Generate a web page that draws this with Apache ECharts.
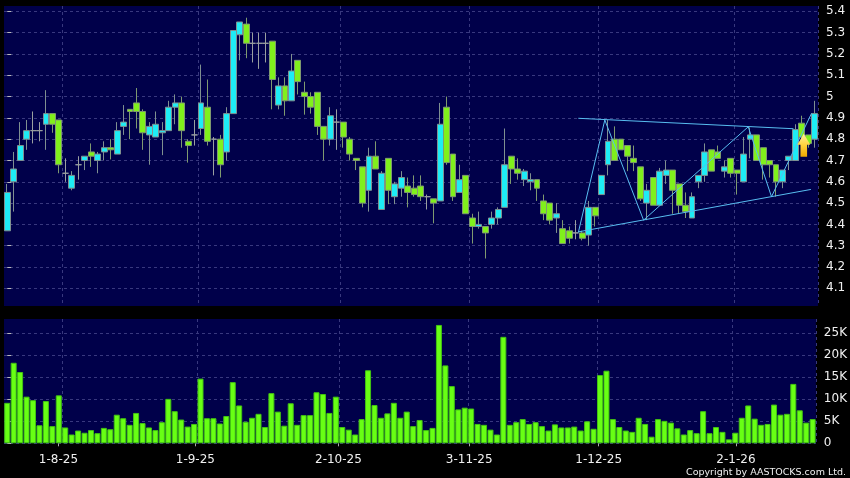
<!DOCTYPE html>
<html>
<head>
<meta charset="utf-8">
<style>html,body{margin:0;padding:0;background:#000}#c{width:850px;height:478px}</style>
<script src="https://cdn.jsdelivr.net/npm/echarts@6/dist/echarts.min.js"></script>
</head>
<body>
<div id="c"></div>
<script>
const opens = [4.37,4.60,4.70,4.80,4.84,4.84,4.87,4.92,4.89,4.64,4.57,4.68,4.70,4.74,4.70,4.74,4.76,4.73,4.86,4.94,4.97,4.93,4.82,4.81,4.83,4.84,4.95,4.97,4.79,4.82,4.85,4.95,4.80,4.80,4.74,4.92,5.29,5.34,5.25,5.25,5.25,5.26,4.96,5.05,4.98,5.17,5.02,5.00,5.02,4.86,4.80,4.88,4.88,4.80,4.71,4.67,4.56,4.72,4.47,4.71,4.53,4.57,4.58,4.57,4.58,4.53,4.52,4.51,4.95,4.73,4.55,4.63,4.43,4.39,4.39,4.40,4.43,4.48,4.72,4.66,4.61,4.60,4.61,4.51,4.50,4.43,4.38,4.37,4.36,4.36,4.35,4.48,4.54,4.68,4.80,4.80,4.77,4.71,4.67,4.50,4.62,4.49,4.63,4.655,4.59,4.49,4.43,4.60,4.63,4.75,4.74,4.65,4.71,4.655,4.60,4.80,4.82,4.76,4.70,4.68,4.60,4.70,4.70,4.875,4.82,4.80];
const closes = [4.55,4.66,4.77,4.84,4.84,4.84,4.92,4.87,4.68,4.64,4.63,4.68,4.72,4.72,4.73,4.76,4.75,4.84,4.88,4.93,4.93,4.83,4.86,4.87,4.84,4.95,4.97,4.84,4.77,4.82,4.97,4.79,4.80,4.68,4.92,5.31,5.35,5.25,5.25,5.25,5.25,5.08,5.05,4.98,5.12,5.07,5.00,4.95,4.86,4.80,4.91,4.88,4.81,4.73,4.70,4.50,4.72,4.66,4.64,4.56,4.59,4.62,4.55,4.54,4.53,4.53,4.50,4.87,4.69,4.53,4.61,4.45,4.39,4.40,4.36,4.43,4.47,4.68,4.66,4.64,4.65,4.61,4.57,4.45,4.42,4.45,4.31,4.335,4.36,4.335,4.48,4.44,4.63,4.79,4.70,4.75,4.72,4.69,4.52,4.56,4.49,4.65,4.655,4.56,4.49,4.46,4.53,4.63,4.74,4.65,4.71,4.67,4.64,4.64,4.73,4.82,4.70,4.68,4.68,4.60,4.655,4.72,4.845,4.81,4.78,4.92];
const lows = [4.37,4.46,4.70,4.75,4.78,4.79,4.75,4.83,4.64,4.60,4.56,4.61,4.655,4.67,4.64,4.70,4.705,4.73,4.82,4.80,4.85,4.75,4.68,4.81,4.725,4.84,4.87,4.76,4.69,4.77,4.82,4.77,4.63,4.62,4.70,4.92,5.17,5.18,5.16,5.13,5.16,4.94,4.94,4.91,4.98,5.01,4.915,4.92,4.82,4.70,4.77,4.75,4.76,4.70,4.655,4.48,4.46,4.66,4.47,4.495,4.495,4.53,4.48,4.53,4.51,4.47,4.405,4.51,4.68,4.51,4.55,4.45,4.31,4.38,4.24,4.38,4.40,4.48,4.59,4.61,4.58,4.56,4.51,4.42,4.40,4.36,4.31,4.31,4.33,4.325,4.30,4.39,4.54,4.63,4.70,4.75,4.65,4.65,4.51,4.42,4.49,4.49,4.59,4.45,4.45,4.43,4.43,4.57,4.60,4.65,4.71,4.62,4.62,4.54,4.60,4.71,4.70,4.61,4.62,4.53,4.57,4.655,4.70,4.78,4.76,4.76];
const highs = [4.59,4.74,4.88,4.89,4.93,4.88,5.03,4.92,4.89,4.71,4.65,4.72,4.72,4.78,4.74,4.79,4.80,4.88,4.96,4.94,5.04,4.94,4.88,4.93,4.88,4.98,5.01,5.00,4.80,4.89,5.15,5.08,4.81,4.82,4.95,5.31,5.35,5.37,5.30,5.30,5.30,5.26,5.09,5.09,5.20,5.17,5.07,5.02,5.02,4.86,4.95,4.94,4.88,4.81,4.71,4.67,4.76,4.79,4.65,4.71,4.60,4.65,4.62,4.63,4.63,4.54,4.52,4.97,5.00,4.73,4.68,4.63,4.45,4.46,4.39,4.46,4.48,4.85,4.72,4.71,4.66,4.64,4.61,4.54,4.50,4.50,4.42,4.39,4.42,4.37,4.51,4.48,4.63,4.89,4.86,4.80,4.77,4.77,4.67,4.59,4.62,4.665,4.70,4.655,4.59,4.55,4.55,4.63,4.78,4.75,4.77,4.70,4.71,4.655,4.81,4.855,4.82,4.76,4.70,4.68,4.655,4.72,4.87,4.91,4.82,4.98];
const volumesK = [9.2,18.3,16.2,10.6,9.8,4.1,9.6,3.9,10.9,3.6,2.0,2.9,2.4,3.0,2.3,3.5,3.2,6.5,5.7,4.2,6.9,4.6,3.6,3.0,4.8,10.1,7.3,5.4,3.8,4.4,14.7,5.7,5.7,4.5,6.2,13.9,8.6,4.9,5.8,6.7,3.7,11.4,7.2,4.0,9.1,4.2,6.4,6.4,11.6,11.2,6.9,10.6,3.7,3.1,2.0,5.5,16.6,8.7,5.8,6.8,9.2,5.8,7.2,3.9,5.3,3.0,3.5,26.9,17.7,13.0,7.7,8.1,7.9,4.4,4.2,3.1,2.0,24.2,4.2,4.8,5.5,4.4,4.8,3.9,2.9,4.3,3.6,3.6,3.8,2.9,5.0,3.3,15.5,16.5,5.5,3.7,2.9,2.6,5.8,4.4,1.5,5.5,5.1,4.7,3.4,2.0,3.0,2.3,7.3,2.3,3.7,2.6,0.9,2.4,5.8,8.6,5.6,4.2,4.4,8.8,6.5,6.7,13.5,7.5,4.7,5.5];
const dayIndex = volumesK.map((_, i) => i);

const monthStartIndex = [9, 30, 52, 72, 92, 113];
const dateTickPos = [7.95, 29.2, 51.4, 71.7, 91.8, 113.1];
const dateTickLabels = ['1-8-25', '1-9-25', '2-10-25', '3-11-25', '1-12-25', '2-1-26'];
const priceTicks = [4.1,4.2,4.3,4.4,4.5,4.6,4.7,4.8,4.9,5,5.1,5.2,5.3,5.4];
const volumeTicks = [0,5,10,15,20,25];

const upperLine = [[88.4,4.898],[121.7,4.849]];
const lowerLine = [[88.4,4.365],[124.4,4.564]];
const zigzag = [[88.4,4.362],[92.5,4.89],[98.5,4.42],[114.7,4.858],[118.3,4.53],[124.5,4.921]];
const arrowAt = [[123.3,4.772]];

const FONT = 'DejaVu Sans';
const gridLine = {color:'#38387e', width:1, type:[3,3]};
const labelStyle = {color:'#f0f0f0', fontFamily:FONT, fontSize:12};
const overlay = d => ({type:'line', xAxisIndex:1, yAxisIndex:0, data:d, symbol:'none', z:6, silent:true, lineStyle:{color:'#58bdf0', width:1}});
const monthSplit = {show:true, interval:(i)=>monthStartIndex.includes(i), lineStyle:gridLine};
const catAxis = g => ({type:'category', gridIndex:g, data:dayIndex, boundaryGap:true, axisLine:{show:false}, axisTick:{show:false}, axisLabel:{show:false}, splitLine:monthSplit});

const chart = echarts.init(document.getElementById('c'), null, {renderer:'canvas'});
chart.setOption({
  animation:false,
  backgroundColor:'#000',
  title:{text:'Copyright by AASTOCKS.com Ltd.', right:-1, top:463, textStyle:{color:'#f0f0f0', fontFamily:FONT, fontSize:9.5, fontWeight:'normal'}},
  grid:[
    {left:4, width:814, top:6, height:300, show:true, backgroundColor:'#00004a', borderWidth:0},
    {left:4, width:814, top:319, height:124.3, show:true, backgroundColor:'#00004a', borderWidth:0}
  ],
  xAxis:[
    catAxis(0),
    {type:'value', gridIndex:0, min:-0.5, max:125.5, show:false, splitLine:{show:false}},
    catAxis(1),
    {type:'value', gridIndex:1, min:-0.5, max:125.5, position:'bottom', axisLine:{show:false}, splitLine:{show:false},
      axisTick:{show:true, length:3, inside:false, customValues:dateTickPos, lineStyle:{color:'#aaa'}},
      axisLabel:{show:true, ...labelStyle, margin:11, customValues:dateTickPos, formatter:v=>{const i=dateTickPos.findIndex(p=>Math.abs(p-v)<0.01);return i>=0?dateTickLabels[i]:'';}}}
  ],
  yAxis:[
    {type:'value', gridIndex:0, position:'right', min:4.017, max:5.425, interval:0.1, axisLine:{show:false},
      axisTick:{show:true, length:4, customValues:priceTicks, lineStyle:{color:'#bbb'}},
      axisLabel:{show:true, ...labelStyle, margin:8, customValues:priceTicks, formatter:v=>String(Math.round(v*10)/10)},
      splitLine:{show:true, lineStyle:gridLine}},
    {type:'value', gridIndex:1, position:'right', min:0, max:28.25, interval:5, axisLine:{show:false},
      axisTick:{show:true, length:4, customValues:volumeTicks, lineStyle:{color:'#bbb'}},
      axisLabel:{show:true, ...labelStyle, margin:8, customValues:volumeTicks, formatter:v=>v===0?'0':v+'K'},
      splitLine:{show:true, lineStyle:gridLine}}
  ],
  series:[
    {type:'candlestick', xAxisIndex:0, yAxisIndex:0, barWidth:6.4, z:4, silent:true,
      data:dayIndex.map(i=>[opens[i],closes[i],lows[i],highs[i]]),
      itemStyle:{color:'#1eecf6', color0:'#80f01c', borderColor:'#7f9090', borderColor0:'#7f9a70', borderColorDoji:'#9aa0a0', borderWidth:1}},
    overlay(upperLine), overlay(lowerLine), overlay(zigzag),
    {type:'scatter', xAxisIndex:1, yAxisIndex:0, data:arrowAt, z:8, silent:true,
      symbol:'path://M6.5 0 L13 11 L9.8 11 L9.8 23 L3.2 23 L3.2 11 L0 11 Z', symbolSize:[13,23],
      itemStyle:{opacity:1, color:new echarts.graphic.LinearGradient(0,0,0,1,[{offset:0,color:'#fff2a0'},{offset:0.5,color:'#ffd23c'},{offset:1,color:'#f0a800'}])}},
    {type:'bar', xAxisIndex:2, yAxisIndex:1, data:volumesK, barWidth:6, silent:true,
      itemStyle:{color:'#68ff14', borderColor:'#42c412', borderWidth:1}}
  ]
});
</script>
</body>
</html>
